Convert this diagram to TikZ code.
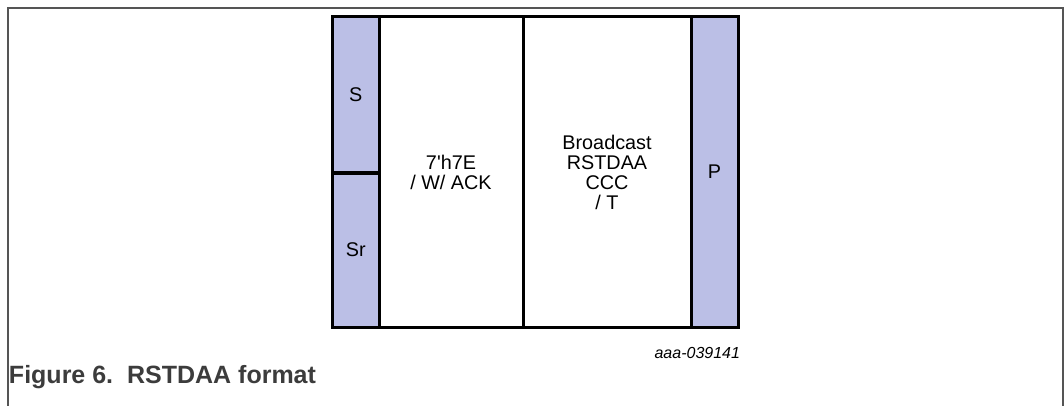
\documentclass[tikz,border=0pt]{standalone}
\usepackage{fontspec}
\setmainfont{Liberation Sans}
\usepackage{xcolor}
\definecolor{fieldlav}{RGB}{187,191,230}
\definecolor{framegray}{RGB}{85,85,85}
\definecolor{captiongray}{RGB}{60,60,60}
\usepackage{tikz}
\usetikzlibrary{positioning}

\begin{document}
\begin{tikzpicture}[x=1pt,y=-1pt,
  every node/.style={align=center,inner sep=0pt,outer sep=0pt},
  field/.style={draw=black,line width=3pt,rectangle,font=\fontsize{19.8}{20}\selectfont},
  bitfield/.style={field,fill=fieldlav}]
  % lienzo 1064 x 406 px
  \useasboundingbox (0,0) rectangle (1064,406);
  % --- marco de la figura ---
  \draw[framegray,line width=1.5pt] (8,406) -- (8,8) -- (1063,8) -- (1063,406);
  % --- campos del formato ---
  \node[bitfield,minimum width=46.5,minimum height=156,anchor=north west] (start) at (332.5,17) {S};
  \node[bitfield,minimum width=46.5,minimum height=154,anchor=north west] (rstart) at (start.south west) {Sr};
  \node[field,minimum width=144,minimum height=310,anchor=north west] (addr) at (start.north east) {7\textquotesingle h7E\\/ W/ ACK};
  \node[field,minimum width=168,minimum height=310,anchor=north west] (ccc) at (addr.north east) {Broadcast\\RSTDAA\\CCC\\/ T};
  \node[bitfield,minimum width=47,minimum height=310,anchor=north west] (stop) at (ccc.north east) {P};
  % --- rótulos ---
  \node[font=\fontsize{16}{16}\selectfont\itshape,anchor=base east] (figid) at (740,358) {aaa-039141};
  \node[font=\fontsize{25}{25}\selectfont\bfseries,text=captiongray,anchor=base west] (caption) at (9,383) {Figure 6.~~RSTDAA format};
\end{tikzpicture}
\end{document}
